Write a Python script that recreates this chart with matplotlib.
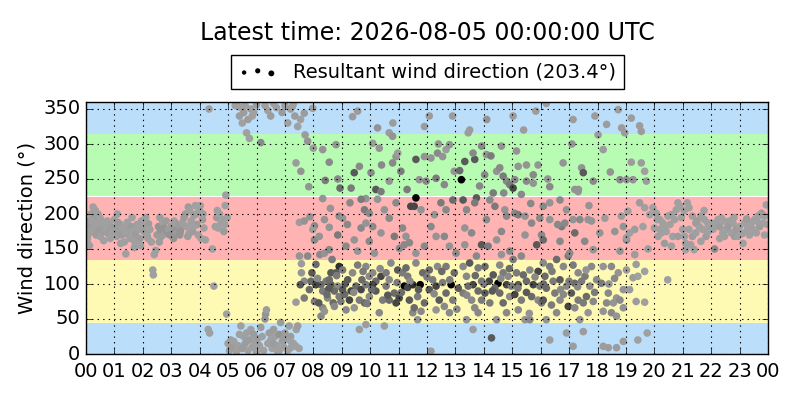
import matplotlib
matplotlib.use("Agg")
import matplotlib.pyplot as plt
from matplotlib.collections import PathCollection
from matplotlib.colors import LinearSegmentedColormap, PowerNorm
from matplotlib.legend_handler import HandlerPathCollection

plt.style.use('classic')

# hours since 00 UTC on 2026-08-04, wind direction (deg), wind speed class (0 light .. 10 strong)
hours = [
    0.02, 0.05, 0.08, 0.10, 0.12, 0.15, 0.18, 0.20, 0.25, 0.28,
    0.30, 0.33, 0.36, 0.40, 0.42, 0.45, 0.50, 0.52, 0.55, 0.60,
    0.62, 0.65, 0.70, 0.75, 0.78, 0.82, 0.85, 0.90, 0.95, 1.00,
    1.05, 1.08, 1.10, 1.15, 1.20, 1.22, 1.25, 1.30, 1.35, 1.40,
    1.42, 1.45, 1.50, 1.55, 1.60, 1.65, 1.70, 1.72, 1.75, 1.80,
    1.85, 1.90, 1.95, 2.00, 2.05, 2.10, 2.15, 2.20, 2.25, 2.30,
    2.35, 2.37, 2.40, 2.45, 2.50, 2.55, 2.60, 2.62, 2.65, 2.70,
    2.75, 2.80, 2.85, 2.90, 2.95, 3.00, 3.05, 3.10, 3.15, 3.20,
    3.25, 3.30, 3.35, 3.40, 3.45, 3.50, 3.55, 3.60, 3.62, 3.65,
    3.70, 3.75, 3.80, 3.85, 3.90, 3.95, 4.00, 4.05, 4.10, 4.15,
    4.20, 4.30, 4.33, 4.35, 4.45, 4.50, 4.55, 4.60, 4.65, 4.70,
    4.75, 4.80, 4.85, 4.90, 4.92, 4.95, 4.97,
    0.03, 0.22, 0.48, 0.88, 1.12, 1.38, 1.62, 1.92, 2.18, 2.58,
    2.82, 3.08, 3.32, 3.58, 3.78, 4.02, 4.12, 4.62, 4.88, 3.88,
    # 05 - 07.5
    5.00, 5.05, 5.10, 5.15, 5.20, 5.30, 5.35, 5.45, 5.50, 5.55,
    5.60, 5.65, 5.70, 5.75, 5.80, 5.85, 5.90, 5.95, 6.00, 6.05,
    6.10, 6.15, 6.20, 6.25, 6.30, 6.32, 6.35, 6.40, 6.45, 6.50,
    6.55, 6.60, 6.65, 6.70, 6.75, 6.80, 6.85, 6.90, 6.95, 7.00,
    7.05, 7.10, 7.20, 7.30, 7.40, 7.50, 5.30, 5.40, 5.45, 5.50,
    5.55, 5.60, 5.65, 5.70, 5.75, 5.80, 5.90, 6.00, 6.15, 6.30,
    6.40, 6.50, 6.60, 6.70, 6.90, 7.00, 7.10, 7.20, 7.30, 7.35,
    7.45, 7.55, 5.25, 5.85, 6.05, 6.60, 6.80, 7.15, 5.40, 6.95,
    # 07 - 13
    7.27, 7.68, 7.98, 7.71, 7.80, 8.00, 7.39, 7.56, 7.84, 7.51,
    7.68, 8.04, 7.88, 8.04, 7.51, 7.80, 7.58, 7.58, 7.68, 7.54,
    7.86, 7.68, 7.39, 8.04, 7.95, 7.92, 8.33, 8.27, 7.45, 7.21,
    7.39, 7.21, 8.09, 8.23, 8.39, 8.56, 8.66, 8.91, 8.80, 8.62,
    8.45, 8.27, 8.09, 8.62, 8.86, 8.33, 8.74, 8.50, 8.91, 8.19,
    8.70, 8.97, 8.39, 8.74, 8.56, 8.54, 8.56, 8.39, 8.91, 7.98,
    8.21, 8.86, 8.33, 8.56, 8.42, 8.86, 8.33, 8.94, 8.80, 9.38,
    9.56, 9.03, 9.21, 9.38, 9.50, 9.68, 9.85, 9.97, 9.10, 9.27,
    9.62, 9.80, 9.15, 9.44, 9.85, 9.56, 9.33, 9.03, 9.97, 9.71,
    9.15, 9.56, 9.03, 9.68, 9.80, 9.85, 9.29, 9.44, 9.97, 9.33,
    9.44, 9.62, 9.85, 9.68, 9.85, 9.62, 10.09, 10.20, 10.38, 10.56,
    10.67, 10.85, 10.20, 10.44, 10.67, 10.91, 10.32, 10.09, 10.73, 10.97,
    10.56, 10.09, 10.38, 10.67, 10.85, 11.03, 10.15, 9.97, 10.50, 10.91,
    10.26, 10.09, 10.32, 10.20, 10.38, 10.67, 10.03, 10.91, 10.97, 10.79,
    10.26, 10.67, 10.79, 10.50, 11.20, 11.32, 11.50, 11.76, 11.14, 11.61,
    11.85, 11.38, 11.02, 11.67, 11.91, 11.50, 11.32, 11.26, 11.79, 11.67,
    11.14, 11.26, 11.38, 11.61, 11.91, 11.55, 11.43, 11.61, 11.79, 11.20,
    11.08, 11.73, 11.97, 11.61, 11.91, 11.91, 12.08, 12.14, 12.20, 12.32,
    12.55, 12.67, 12.85, 12.43, 12.37, 12.67, 12.96, 12.08, 12.61, 12.32,
    12.91, 12.79, 12.08, 12.14, 12.26, 12.49, 12.67, 12.91, 12.32, 12.61,
    12.79, 13.02, 12.14, 12.37, 12.55, 12.67, 12.79, 12.32, 12.61, 12.96,
    # 13 - 19
    13.21, 13.33, 13.68, 13.62, 13.27, 13.74, 13.39, 13.68, 13.33, 13.57,
    13.92, 13.33, 13.74, 13.27, 13.50, 13.80, 13.39, 13.62, 13.92, 13.45,
    13.80, 13.27, 13.57, 13.92, 13.68, 13.39, 13.80, 13.62, 14.27, 13.45,
    13.50, 13.92, 14.09, 14.03, 14.45, 14.33, 14.19, 14.33, 14.50, 14.68,
    14.86, 14.39, 14.80, 14.97, 14.56, 14.04, 14.21, 14.68, 14.91, 14.80,
    14.45, 14.04, 14.56, 14.21, 14.39, 14.09, 14.74, 14.80, 14.45, 14.91,
    14.62, 14.15, 14.62, 14.62, 14.56, 14.68, 14.80, 14.91, 15.03, 15.09,
    15.21, 15.50, 15.32, 15.03, 15.83, 15.15, 15.39, 15.62, 15.91, 15.21,
    15.50, 15.74, 15.97, 15.09, 15.32, 15.68, 15.91, 15.21, 16.03, 15.45,
    15.62, 15.09, 15.21, 15.45, 15.68, 15.97, 15.45, 15.86, 16.03, 15.03,
    15.32, 15.50, 15.74, 15.91, 15.74, 16.20, 16.09, 16.32, 16.56, 16.80,
    16.15, 16.44, 16.68, 16.91, 16.20, 16.50, 16.80, 16.09, 16.38, 16.68,
    16.97, 16.20, 16.56, 16.09, 16.32, 16.68, 16.91, 16.74, 16.85, 16.09,
    16.68, 16.97, 16.32, 16.32, 16.79, 17.33, 16.32, 16.91, 17.14, 17.32,
    17.56, 17.79, 17.20, 17.44, 17.73, 17.97, 17.08, 17.32, 17.61, 17.85,
    17.20, 17.50, 17.67, 17.38, 17.14, 17.38, 17.67, 17.79, 17.20, 17.55,
    17.85, 17.02, 17.20, 17.44, 17.50, 17.85, 17.32, 17.14, 17.91, 18.20,
    17.50, 17.14, 18.20, 18.49, 18.73, 18.14, 18.38, 18.67, 18.91, 18.32,
    18.56, 18.79, 18.20, 18.49, 18.91, 18.67, 18.08, 18.26, 18.61, 18.91,
    18.79, 19.02, 18.20, 18.02, 18.32, 18.79, 19.02, 18.96, 18.85, 18.73,
    18.91, 18.67, 18.38,
    # 08 - 18, extra readings
    8.15, 8.48, 8.82, 9.12, 9.42, 9.75, 10.05, 10.35, 10.62, 10.95,
    11.10, 11.40, 11.70, 12.00, 12.25, 12.52, 12.80, 13.10, 13.40, 13.70,
    14.00, 14.30, 14.60, 14.90, 15.20, 15.50, 15.80, 16.10, 16.40, 16.70,
    17.00, 17.30, 17.60, 17.90, 18.40, 18.60, 9.90, 11.55, 13.05, 15.60,
    8.60, 9.20, 10.40, 11.30, 12.40, 13.15, 13.85, 14.25, 14.70, 15.15,
    15.65, 16.25, 16.60, 17.10, 17.70, 18.45, 10.80, 12.90, 14.10, 15.40,
    # 19 - 24
    19.19, 19.48, 19.54, 19.19, 19.54, 19.66, 19.72, 19.25, 19.48, 19.66,
    19.07, 18.84, 19.84, 19.31, 19.13, 19.02, 19.60, 19.78, 19.31, 19.36,
    19.66, 19.25, 19.42, 19.02, 19.13, 19.36, 19.66, 19.42, 19.75, 19.95,
    20.07, 20.19, 20.30, 20.42, 20.25, 20.13, 20.36, 20.48, 20.60, 20.71,
    20.83, 20.77, 20.90, 20.65, 20.83, 21.00, 21.06, 20.47, 20.60, 21.10,
    21.16, 21.22, 21.34, 21.46, 21.58, 21.64, 21.76, 21.88, 21.22, 21.34,
    21.28, 21.40, 21.10, 21.46, 21.70, 21.82, 21.94, 21.64, 22.00, 22.12,
    22.06, 22.18, 22.29, 22.41, 22.53, 22.65, 22.77, 22.88, 23.00, 22.47,
    22.71, 22.82, 22.94, 23.12, 22.24, 22.36, 22.59, 23.18, 23.29, 23.41,
    23.53, 23.65, 23.77, 23.88, 23.94, 23.47, 23.59, 23.71, 23.82, 23.88,
    23.35, 23.24, 20.20, 20.55, 20.95, 21.50, 21.90, 22.30, 22.80, 23.10,
    23.60, 23.98, 20.35, 21.05, 21.75, 22.45, 23.25, 23.70, 20.00, 20.10,
]

directions = [
    178, 165, 190, 172, 155, 185, 200, 175, 210, 195,
    182, 205, 170, 188, 200, 176, 168, 192, 180, 186,
    162, 175, 178, 190, 172, 185, 165, 180, 175, 192,
    182, 168, 200, 176, 185, 158, 170, 180, 160, 143,
    172, 188, 178, 165, 182, 175, 152, 160, 170, 185,
    178, 165, 190, 182, 175, 195, 170, 186, 178, 160,
    120, 113, 142, 148, 170, 182, 195, 176, 168, 188,
    180, 172, 175, 178, 170, 182, 168, 190, 176, 172,
    185, 170, 180, 188, 195, 200, 182, 210, 172, 205,
    190, 175, 198, 212, 185, 170, 205, 165, 192, 180,
    163, 35, 350, 30, 150, 97, 182, 195, 180, 200,
    188, 192, 175, 212, 227, 57, 195,
    160, 190, 195, 170, 188, 175, 195, 155, 165, 160,
    190, 165, 175, 168, 182, 212, 200, 205, 185, 200,
    # 05 - 07.5
    15, 5, 20, 10, 18, 3, 12, 40, 8, 25,
    15, 30, 5, 20, 35, 10, 28, 18, 3, 22,
    12, 38, 25, 5, 50, 57, 63, 15, 30, 20,
    8, 35, 25, 12, 3, 28, 45, 18, 10, 30,
    22, 5, 25, 15, 35, 8, 358, 340, 352, 330,
    345, 355, 316, 335, 308, 350, 345, 356, 302, 355,
    348, 340, 358, 352, 345, 355, 330, 350, 358, 340,
    325, 335, 355, 340, 12, 15, 5, 40, 28, 22,
    # 07 - 13
    354, 344, 351, 313, 304, 294, 273, 261, 239, 188,
    190, 183, 196, 163, 140, 140, 129, 116, 104, 99,
    92, 80, 74, 75, 116, 104, 66, 54, 40, 18,
    11, 9, 128, 142, 144, 149, 135, 125, 116, 116,
    104, 99, 99, 99, 97, 90, 90, 80, 82, 73,
    73, 75, 61, 68, 106, 93, 181, 192, 197, 178,
    168, 170, 222, 274, 248, 250, 292, 237, 299, 339,
    347, 120, 106, 116, 97, 92, 99, 82, 85, 77,
    77, 73, 63, 66, 125, 127, 90, 92, 111, 106,
    154, 147, 194, 180, 206, 187, 216, 163, 201, 237,
    259, 268, 222, 221, 42, 35, 116, 104, 111, 97,
    106, 87, 90, 77, 77, 73, 59, 99, 130, 120,
    116, 182, 173, 194, 168, 151, 144, 161, 206, 216,
    221, 301, 294, 235, 232, 247, 259, 282, 287, 273,
    323, 316, 311, 40, 97, 95, 99, 99, 116, 130,
    116, 77, 80, 82, 73, 59, 111, 123, 61, 49,
    180, 168, 159, 144, 154, 211, 211, 223, 206, 156,
    261, 249, 247, 278, 282, 325, 340, 4, 106, 97,
    102, 87, 99, 77, 125, 125, 116, 92, 68, 63,
    77, 59, 120, 182, 199, 216, 206, 220, 168, 168,
    154, 144, 280, 287, 282, 292, 299, 251, 242, 261,
    # 13 - 19
    249, 275, 278, 287, 220, 223, 206, 216, 180, 173,
    156, 156, 140, 125, 130, 123, 111, 99, 104, 97,
    90, 87, 77, 77, 66, 49, 59, 35, 23, 316,
    320, 297, 285, 256, 261, 230, 104, 113, 101, 116,
    111, 94, 99, 97, 87, 87, 73, 73, 82, 59,
    49, 125, 127, 220, 211, 192, 206, 197, 163, 147,
    142, 154, 175, 297, 266, 254, 247, 242, 237, 249,
    268, 270, 228, 340, 347, 116, 113, 120, 118, 99,
    104, 99, 97, 85, 77, 82, 77, 63, 73, 49,
    49, 201, 199, 197, 187, 194, 170, 156, 170, 135,
    140, 247, 244, 270, 256, 358, 130, 125, 135, 125,
    111, 104, 106, 97, 94, 87, 85, 77, 70, 77,
    68, 49, 59, 211, 216, 220, 206, 182, 187, 163,
    161, 140, 192, 239, 273, 235, 20, 30, 127, 116,
    111, 125, 101, 104, 97, 106, 87, 77, 82, 75,
    66, 73, 59, 49, 192, 192, 192, 190, 173, 161,
    149, 144, 235, 266, 259, 247, 232, 335, 340, 11,
    32, 11, 125, 125, 116, 101, 87, 80, 92, 73,
    73, 77, 61, 59, 66, 54, 173, 194, 175, 182,
    147, 163, 292, 313, 328, 249, 249, 316, 323, 349,
    18, 9, 9,
    # 08 - 18, extra readings
    108, 85, 112, 100, 88, 118, 92, 122, 84, 102,
    88, 104, 92, 110, 86, 118, 106, 94, 84, 112,
    100, 90, 108, 122, 94, 88, 110, 100, 118, 92,
    104, 96, 120, 88, 100, 108, 72, 66, 64, 58,
    208, 185, 270, 235, 300, 262, 240, 283, 230, 290,
    215, 250, 185, 300, 212, 260, 330, 340, 335, 320,
    # 19 - 24
    337, 326, 318, 274, 273, 261, 247, 249, 216, 209,
    204, 197, 199, 178, 173, 166, 182, 150, 142, 128,
    118, 109, 111, 120, 92, 75, 74, 20, 30, 209,
    201, 192, 187, 175, 173, 168, 158, 197, 199, 192,
    216, 206, 211, 168, 168, 178, 168, 106, 154, 158,
    216, 209, 197, 187, 182, 197, 192, 187, 178, 168,
    156, 149, 149, 173, 178, 168, 182, 161, 187, 150,
    178, 187, 182, 173, 178, 190, 187, 178, 182, 168,
    173, 168, 168, 158, 192, 194, 182, 187, 182, 187,
    192, 197, 201, 197, 213, 178, 173, 182, 187, 170,
    170, 175, 178, 185, 195, 190, 175, 165, 195, 172,
    190, 185, 182, 205, 205, 190, 193, 198, 180, 192,
]

speeds = [
    0, 0, 1, 0, 0, 1, 0, 0, 0, 1,
    0, 0, 1, 0, 0, 1, 0, 0, 1, 0,
    0, 1, 0, 0, 1, 0, 0, 1, 0, 0,
    1, 0, 0, 1, 0, 0, 1, 0, 0, 0,
    1, 0, 0, 0, 1, 0, 0, 0, 1, 0,
    0, 1, 0, 0, 1, 0, 0, 1, 0, 0,
    0, 0, 0, 0, 1, 2, 1, 2, 1, 0,
    2, 1, 2, 1, 2, 1, 2, 0, 2, 1,
    1, 2, 1, 0, 1, 1, 0, 1, 0, 0,
    0, 1, 0, 0, 1, 0, 0, 0, 1, 0,
    0, 0, 0, 0, 0, 0, 0, 1, 0, 0,
    0, 0, 1, 0, 0, 0, 0,
    0, 0, 0, 0, 1, 0, 0, 0, 0, 1,
    1, 2, 2, 1, 0, 0, 0, 0, 0, 0,
    # 05 - 07.5
    0, 0, 0, 1, 0, 0, 0, 0, 1, 0,
    1, 0, 0, 1, 0, 0, 1, 0, 0, 1,
    0, 1, 0, 0, 2, 2, 1, 0, 1, 0,
    0, 1, 0, 0, 0, 2, 1, 0, 0, 1,
    0, 0, 1, 0, 0, 0, 0, 1, 0, 0,
    1, 0, 0, 1, 0, 0, 0, 1, 3, 0,
    0, 1, 0, 0, 1, 0, 0, 1, 0, 1,
    0, 0, 0, 0, 0, 1, 0, 0, 0, 1,
    # 07 - 13
    0, 1, 0, 1, 2, 1, 1, 2, 2, 1,
    2, 3, 2, 3, 2, 3, 1, 2, 3, 6,
    5, 4, 1, 4, 6, 5, 3, 3, 1, 0,
    0, 0, 5, 3, 2, 3, 4, 8, 6, 6,
    4, 5, 7, 6, 3, 4, 5, 3, 4, 6,
    5, 4, 2, 3, 5, 6, 2, 2, 3, 1,
    2, 4, 2, 3, 4, 3, 2, 5, 2, 1,
    1, 4, 6, 3, 5, 7, 4, 3, 5, 7,
    4, 5, 3, 2, 3, 4, 7, 6, 3, 5,
    3, 2, 2, 3, 4, 2, 3, 2, 3, 4,
    6, 3, 2, 4, 1, 1, 3, 5, 7, 4,
    3, 5, 6, 4, 5, 7, 3, 7, 3, 6,
    4, 3, 2, 3, 4, 3, 2, 3, 2, 3,
    2, 1, 2, 6, 4, 2, 3, 2, 1, 3,
    2, 1, 2, 1, 10, 7, 8, 10, 4, 3,
    5, 6, 7, 4, 5, 3, 4, 5, 3, 2,
    3, 2, 3, 2, 3, 7, 7, 10, 2, 3,
    4, 2, 3, 6, 2, 1, 1, 1, 4, 7,
    4, 5, 10, 6, 3, 4, 5, 6, 3, 2,
    4, 3, 5, 3, 2, 4, 3, 5, 2, 3,
    2, 3, 2, 3, 2, 1, 2, 4, 3, 2,
    # 13 - 19
    10, 6, 6, 3, 6, 6, 3, 4, 2, 3,
    6, 2, 3, 3, 6, 4, 3, 7, 4, 5,
    5, 4, 3, 4, 3, 2, 3, 1, 6, 1,
    1, 3, 2, 3, 2, 4, 7, 6, 10, 4,
    3, 5, 7, 4, 5, 6, 4, 5, 3, 3,
    2, 5, 3, 3, 4, 3, 2, 3, 2, 3,
    2, 4, 3, 2, 3, 4, 3, 4, 7, 3,
    2, 2, 3, 1, 1, 4, 5, 3, 7, 6,
    5, 7, 4, 7, 4, 5, 3, 3, 4, 2,
    3, 3, 4, 2, 3, 3, 2, 6, 3, 4,
    3, 3, 2, 2, 3, 1, 3, 4, 5, 3,
    5, 4, 6, 3, 5, 4, 3, 6, 4, 3,
    7, 2, 3, 3, 2, 3, 2, 4, 3, 5,
    3, 4, 2, 3, 2, 2, 1, 1, 4, 3,
    4, 3, 5, 4, 3, 3, 6, 4, 5, 3,
    3, 4, 2, 2, 2, 3, 2, 2, 5, 3,
    2, 3, 2, 2, 6, 3, 2, 1, 1, 1,
    1, 1, 2, 3, 2, 4, 3, 2, 2, 3,
    2, 3, 2, 3, 2, 2, 2, 1, 2, 2,
    2, 3, 1, 1, 1, 3, 2, 1, 1, 1,
    1, 1, 1,
    # 08 - 18, extra readings
    3, 5, 4, 6, 3, 4, 5, 3, 6, 4,
    5, 3, 6, 4, 3, 5, 4, 6, 3, 5,
    4, 6, 3, 5, 4, 6, 3, 5, 4, 3,
    4, 3, 2, 4, 2, 3, 4, 5, 3, 2,
    2, 3, 3, 4, 2, 5, 3, 4, 3, 2,
    3, 2, 3, 2, 2, 2, 1, 1, 2, 1,
    # 19 - 24
    1, 1, 1, 1, 1, 0, 1, 2, 1, 0,
    0, 1, 0, 1, 0, 1, 0, 1, 1, 1,
    0, 1, 0, 1, 1, 1, 0, 0, 0, 0,
    0, 0, 0, 0, 0, 0, 1, 0, 0, 0,
    0, 0, 0, 0, 1, 0, 0, 0, 0, 0,
    0, 0, 0, 1, 0, 0, 0, 0, 0, 1,
    0, 0, 0, 0, 0, 1, 0, 0, 0, 3,
    0, 0, 1, 0, 0, 0, 0, 1, 0, 0,
    0, 1, 0, 0, 0, 0, 1, 0, 0, 0,
    0, 0, 1, 0, 0, 0, 0, 1, 0, 0,
    0, 0, 0, 0, 0, 1, 0, 0, 0, 0,
    0, 0, 0, 0, 0, 0, 1, 0, 0, 0,
]

assert len(hours) == len(directions) == len(speeds)

# direction sectors (deg) and their shading
sector_edges = [0, 45, 135, 225, 315, 360]
sector_colors = ['#bbdefb', '#fffab3', '#ffb3b3', '#b8fbb3', '#bbdefb']

resultant_dir = 203.4
latest = '2026-08-05 00:00:00 UTC'

# light grey for calm, black for the strongest wind
speed_cmap = LinearSegmentedColormap.from_list('speed_grey', ['#a0a0a0', '#000000'])

fig = plt.figure(figsize=(8, 4), dpi=100, facecolor='white')
ax = fig.add_axes([0.1075, 0.115, 0.8525, 0.63])

for lo, hi, col in zip(sector_edges[:-1], sector_edges[1:], sector_colors):
    ax.axhspan(lo, hi, facecolor=col, edgecolor='none', zorder=0)

ax.scatter(hours, directions, c=speeds, cmap=speed_cmap,
           norm=PowerNorm(gamma=1.6, vmin=0, vmax=10),
           s=30, linewidths=0, zorder=2)

ax.set_xlim(0, 24)
ax.set_ylim(0, 360)
ax.set_xticks(range(25))
ax.set_xticklabels([f'{h % 24:02d}' for h in range(25)])
ax.set_yticks(range(0, 351, 50))
ax.tick_params(labelsize=14)
ax.tick_params(axis='x', pad=6)
ax.grid(True, color='k', linestyle=':', linewidth=0.8)
ax.set_ylabel('Wind direction (°)', fontsize=14)

proxy = ax.scatter([], [], c='k', s=12, linewidths=0)
ax.legend([proxy], [f'Resultant wind direction ({resultant_dir}°)'],
          loc='lower center', bbox_to_anchor=(0.5, 1.05), borderaxespad=0,
          fontsize=14, scatterpoints=3, fancybox=False,
          handler_map={PathCollection: HandlerPathCollection(sizes=[10, 14, 18])})

fig.text(0.534, 0.9175, f'Latest time: {latest}', ha='center', va='center', fontsize=17)

fig.savefig('out.png', dpi=100, facecolor='white')
